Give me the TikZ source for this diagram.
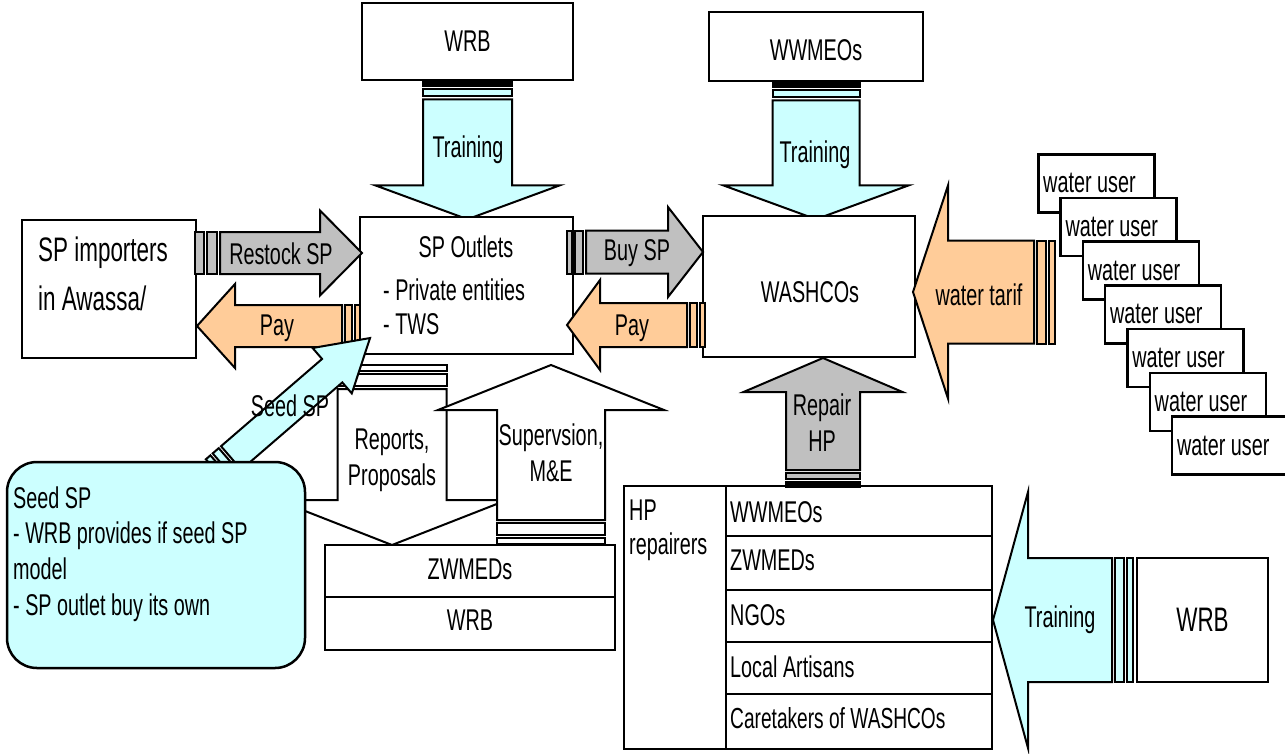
\documentclass[tikz,border=0pt]{standalone}
\usepackage{fontspec}
\setmainfont{Liberation Sans}[FakeStretch=0.66]
\definecolor{cyanf}{HTML}{CCFFFF}
\definecolor{grayf}{HTML}{C0C0C0}
\definecolor{peachf}{HTML}{FFCC99}
\newcommand{\txtsz}{\fontsize{30}{36}\selectfont}
\newcommand{\bigsz}{\fontsize{34}{45}\selectfont}
\tikzset{
  box/.style={draw, line width=2.5pt, fill=white, inner sep=0pt},
  aline/.style={draw, line width=2pt, line join=miter},
  lbl/.style={inner sep=0pt},
  stripeone/.style={},
  bandarrow/.style={stripeone/.style={fill=black}},
}
% striped block arrow: #1 tail centre, #2 angle, #3 length, #4 shaft half width,
% #5 head half width, #6 head length, #7 fill, #8 stripe 1, #9 stripe 2
\newcommand{\sarrow}[9]{%
  \begin{scope}[shift={#1},rotate=#2]
    \path[aline,fill=#7,stripeone] (0,-#4) rectangle (#8,#4);
    \path[aline,fill=#7] ({#8+3},-#4) rectangle ({#8+3+#9},#4);
    \path[aline,fill=#7] ({#8+#9+6},-#4) -- ({#3-#6},-#4) -- ({#3-#6},-#5) -- (#3,0)
      -- ({#3-#6},#5) -- ({#3-#6},#4) -- ({#8+#9+6},#4) -- cycle;
  \end{scope}}
\begin{document}
\begin{tikzpicture}[x=1pt,y=-1pt,font=\txtsz]
\useasboundingbox (0,0) rectangle (1285,753);
\fill[white] (0,0) rectangle (1285,753);

% top boxes
\node[box,minimum width=211pt,minimum height=77pt] (wrbT) at (467.5,41.5) {};
\node[box,minimum width=214pt,minimum height=69pt] (wwmeoT) at (816,46.5) {};

% training arrows from top
\begin{scope}[bandarrow]
\sarrow{(wrbT.south)}{270}{138}{44.5}{92.5}{34}{cyanf}{5}{7}
\sarrow{(wwmeoT.south)}{270}{137}{43.5}{93}{34}{cyanf}{5}{7}
\end{scope}

% main boxes
\node[box,minimum width=174pt,minimum height=138pt] (spimp) at (109,289) {};
\node[box,minimum width=213pt,minimum height=137pt] (spout) at (466.5,285.5) {};
\node[box,minimum width=212pt,minimum height=141pt] (washco) at (809,286.5) {};

% horizontal arrows
\sarrow{(195,253)}{0}{167}{21}{42.5}{42}{grayf}{9}{10}
\sarrow{(360,326)}{180}{163}{21}{42}{38}{peachf}{5}{7}
\sarrow{(567,252)}{0}{136}{21.5}{45}{35}{grayf}{5}{8}
\sarrow{(705,325)}{180}{138}{22}{45}{33}{peachf}{5}{7}
\sarrow{(1055,292)}{180}{142}{51.5}{106.5}{35}{peachf}{6}{9}

% water users
\foreach \i in {0,...,6}{
  \node[box,minimum width=116pt,minimum height=58pt,anchor=north west]
    (wu\i) at ({1037+22.3*\i},{153+43.7*\i}) {};
  \node[lbl,anchor=west] (wut\i) at ([xshift=6pt]wu\i.west) {water user};
}

% reports / supervision arrows
\sarrow{(392,365)}{270}{180}{54.5}{115}{45}{white}{6}{12}
\sarrow{(551,544)}{90}{179}{54}{113}{45}{white}{6}{12}

% seed SP arrow
\sarrow{(216,471)}{40.8}{203.5}{15.5}{30}{50}{cyanf}{6}{8}

% seed SP box
\node[box,fill=cyanf,rounded corners=30pt,minimum width=298pt,minimum height=206pt] (seedbox) at (156,565) {};

% ZWMEDs / WRB table
\node[box,minimum width=290pt,minimum height=52pt] (zw) at (470,571) {};
\node[box,minimum width=290pt,minimum height=53pt] (wrbB) at (470,623.5) {};

% HP repairers table
\node[box,minimum width=102pt,minimum height=263pt] (hpcol) at (675,617.5) {};
\node[box,minimum width=266pt,minimum height=50pt] (r1) at (859,511) {};
\node[box,minimum width=266pt,minimum height=54pt] (r2) at (859,563) {};
\node[box,minimum width=266pt,minimum height=52pt] (r3) at (859,616) {};
\node[box,minimum width=266pt,minimum height=52pt] (r4) at (859,668) {};
\node[box,minimum width=266pt,minimum height=55pt] (r5) at (859,721.5) {};

% repair arrow
\begin{scope}[bandarrow]
\sarrow{(823,487)}{90}{129}{37}{79.5}{34}{grayf}{5}{6}
\end{scope}

% training right
\sarrow{(1133,620)}{180}{140}{62}{128}{35}{cyanf}{6}{9}
\node[box,minimum width=131pt,minimum height=124pt] (wrbR) at (1202.5,620) {};

% texts
\node[lbl] (t1) at (wrbT.center) {WRB};
\node[lbl] (t2) at (816,50) {WWMEOs};
\node[lbl] (t3) at (468,150) {Training};
\node[lbl] (t4) at (815,155) {Training};
\node[lbl,anchor=west,font=\bigsz] (t5) at (38,253) {SP importers};
\node[lbl,anchor=west,font=\bigsz] (t6) at (38,298) {in Awassa/};
\node[lbl] (t7) at (466,247) {SP Outlets};
\node[lbl,anchor=west] (t8) at (383,290) {- Private entities};
\node[lbl,anchor=west] (t9) at (383,324) {- TWS};
\node[lbl] (t10) at (810,292) {WASHCOs};
\node[lbl] (t11) at (281,254) {Restock SP};
\node[lbl] (t12) at (277,328) {Pay};
\node[lbl] (t13) at (637,253) {Buy SP};
\node[lbl] (t14) at (632,328) {Pay};
\node[lbl] (t15) at (979,295) {water tarif};
\node[lbl] (t16) at (290,406) {Seed SP};
\node[lbl,align=center] (t17) at (392,460) {Reports,\\Proposals};
\node[lbl,align=center] (t18) at (551,453) {Supervsion,\\M\&E};
\node[lbl,align=center] (t19) at (822,423) {Repair\\HP};
\node[lbl,anchor=base west] (s1) at (13,508) {Seed SP};
\node[lbl,anchor=base west] (s2) at (13,543) {- WRB provides if seed SP};
\node[lbl,anchor=base west] (s3) at (13,579) {model};
\node[lbl,anchor=base west] (s4) at (13,615) {- SP outlet buy its own};
\node[lbl] (t20) at (470,569) {ZWMEDs};
\node[lbl] (t21) at (470,620) {WRB};
\node[lbl,anchor=west] (h1) at (629,510) {HP};
\node[lbl,anchor=west] (h2) at (629,547) {repairers};
\node[lbl,anchor=west] (h3) at (730,512) {WWMEOs};
\node[lbl,anchor=west] (h4) at (730,560) {ZWMEDs};
\node[lbl,anchor=west] (h5) at (730,615) {NGOs};
\node[lbl,anchor=west] (h6) at (730,667) {Local Artisans};
\node[lbl,anchor=west,font=\fontsize{29}{34}\selectfont] (h7) at (730,718) {Caretakers of WASHCOs};
\node[lbl] (t22) at (1060,620) {Training};
\node[lbl,font=\bigsz] (t23) at (wrbR.center) {WRB};
\end{tikzpicture}
\end{document}
